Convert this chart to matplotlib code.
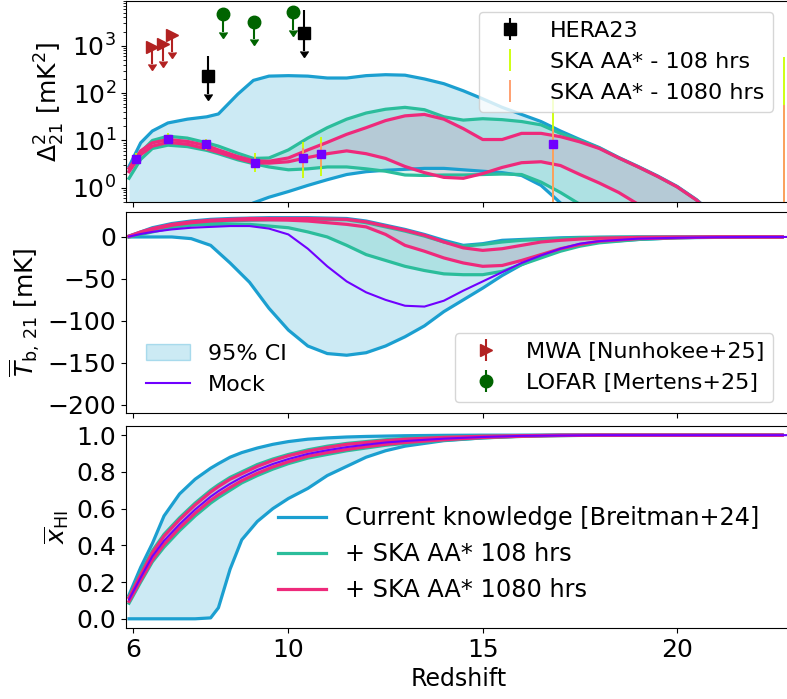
import numpy as np
import matplotlib
matplotlib.use('Agg')
import matplotlib.pyplot as plt
from matplotlib.patches import Patch
from matplotlib.lines import Line2D

# ---------------- data ----------------
# Top panel: power spectrum bands (log10 of Delta^2_21 in mK^2)
z_ps = [5.9, 6.2, 6.5, 6.9, 7.4, 7.9, 8.2, 8.7, 9.1, 9.5, 10.0, 10.5, 11.0, 11.5,
        12.0, 12.5, 13.0, 13.5, 14.0, 14.5, 15.0, 15.5, 16.0, 16.5, 17.0, 17.5,
        18.0, 18.5, 19.0, 19.5, 20.0, 20.5, 21.0, 22.0, 22.7]
ps_cur_hi = [0.45, 0.95, 1.2, 1.37, 1.45, 1.5, 1.56, 1.98, 2.27, 2.36, 2.37, 2.36, 2.32, 2.32,
             2.37, 2.39, 2.38, 2.3, 2.2, 2.05, 1.88, 1.7, 1.55, 1.4, 1.2, 1.02,
             0.85, 0.64, 0.45, 0.25, 0.03, -0.25, -0.6, -1.4, -2.0]
ps_cur_lo = [-2.0, -2.0, -2.0, -2.0, -2.0, -2.0, -2.0, -0.5, -0.32, -0.2, -0.08, 0.05, 0.17, 0.28,
             0.34, 0.37, 0.39, 0.41, 0.41, 0.38, 0.35, 0.32, 0.26, 0.05, -0.32, -1.0,
             -2.0, -2.0, -2.0, -2.0, -2.0, -2.0, -2.0, -2.0, -2.0]
ps_108_hi = [0.35, 0.75, 1.0, 1.09, 1.05, 0.95, 0.88, 0.73, 0.62, 0.63, 0.8, 1.05, 1.27, 1.45,
             1.58, 1.66, 1.7, 1.65, 1.5, 1.43, 1.46, 1.44, 1.4, 1.33, 1.15, 1.0,
             0.84, 0.63, 0.44, 0.24, 0.02, -0.26, -0.62, -1.4, -2.0]
ps_108_lo = [0.2, 0.6, 0.83, 0.9, 0.87, 0.79, 0.72, 0.59, 0.51, 0.44, 0.38, 0.4, 0.44, 0.44,
             0.4, 0.35, 0.27, 0.26, 0.27, 0.27, 0.28, 0.29, 0.28, 0.12, -0.1, -0.35,
             -0.8, -2.0, -2.0, -2.0, -2.0, -2.0, -2.0, -2.0, -2.0]
ps_1080_hi = [0.41, 0.78, 0.95, 1.02, 0.98, 0.89, 0.8, 0.66, 0.57, 0.56, 0.63, 0.8, 0.96, 1.13,
              1.27, 1.42, 1.52, 1.55, 1.45, 1.25, 1.02, 1.02, 1.15, 1.15, 1.08, 0.97,
              0.83, 0.63, 0.44, 0.24, 0.02, -0.26, -0.62, -1.4, -2.0]
ps_1080_lo = [0.34, 0.7, 0.88, 0.96, 0.92, 0.82, 0.75, 0.62, 0.53, 0.52, 0.55, 0.64, 0.72, 0.78,
              0.72, 0.62, 0.45, 0.32, 0.22, 0.2, 0.3, 0.43, 0.53, 0.55, 0.47, 0.28,
              0.1, -0.1, -0.35, -0.7, -1.2, -2.0, -2.0, -2.0, -2.0]

# Mock power spectrum points and SKA errors (mK^2)
z_mock_pts = [6.09, 6.89, 7.89, 9.15, 10.37, 10.85, 16.81, 22.75]
ps_mock_pts = [4.1, 10.7, 8.5, 3.4, 4.3, 5.3, 8.3, 0.01]
err108_lo = [0.8, 2.3, 2.2, 1.2, 2.7, 3.5, 8.3, 0.01]
err108_hi = [1.3, 3.9, 2.5, 2.1, 5.1, 6.4, 71.0, 575.0]
err1080_lo = [0.5, 1.5, 1.5, 0.8, 1.7, 2.5, 8.3, 0.01]
err1080_hi = [0.7, 2.3, 1.3, 1.1, 2.6, 3.4, 9.0, 56.0]

# Observational upper limits
z_hera = [7.94, 10.39]
ps_hera = [228.0, 1860.0]
hera_err_lo = [133.0, 1080.0]
hera_err_hi = [372.0, 3940.0]

z_mwa = [6.48, 6.78, 7.0]
ps_mwa = [940.0, 1070.0, 1660.0]

z_lofar = [8.31, 9.12, 10.12]
ps_lofar = [4600.0, 3200.0, 5100.0]

# Middle panel: global signal (mK)
z_tb = [5.9, 6.2, 6.5, 7.0, 7.5, 8.0, 8.5, 9.0, 9.5, 10.0, 10.5, 11.0, 11.5, 12.0,
        12.5, 13.0, 13.5, 14.0, 14.5, 15.0, 15.5, 16.0, 16.5, 17.0, 17.5, 18.0,
        19.0, 20.0, 21.0, 22.0, 22.7]
tb_cur_hi = [1, 6, 11, 16, 19, 21, 22, 22.5, 23, 23, 23, 22.5, 22, 19,
             14, 9, 3, -4, -10, -8, -4, -3, -2, -1, -0.5, -0.3,
             0, 0, 0, 0, 0]
tb_cur_lo = [0, 0, 0, 0, -2, -10, -31, -54, -85, -111, -130, -139, -141, -138,
             -130, -119, -106, -89, -75, -61, -46, -33, -23, -15, -10, -6,
             -3, -1, -0.5, 0, 0]
tb_108_hi = [1, 5, 9, 14, 16.5, 18, 19, 20, 20.5, 21, 21, 21, 20.5, 17,
             12, 7, 1, -6, -11, -9, -6, -4, -3, -2, -1, -0.5,
             0, 0, 0, 0, 0]
tb_108_lo = [0, 3, 6, 11, 14, 15, 15, 15, 13, 11, 6, 0, -10, -21,
             -28, -35, -40, -44, -45, -45, -41, -33, -25, -17, -11, -7,
             -3, -1, 0, 0, 0]
tb_1080_hi = [1, 6, 10, 15, 18, 20, 21, 22, 22, 22, 22, 21.5, 21, 18,
              13, 8, 2, -6, -13, -16, -14, -10, -6, -4, -2.5, -1.5,
              -0.5, 0, 0, 0, 0]
tb_1080_lo = [0.5, 5, 9, 14, 17, 19, 20, 20.5, 20.5, 20, 19, 17, 15, 12,
              3, -10, -17, -25, -31, -35, -34, -28, -21, -14, -9, -5,
              -2, -1, 0, 0, 0]
z_tb_mock = [5.9, 6.2, 6.5, 7.0, 7.5, 8.0, 8.5, 9.0, 9.5, 10.0, 10.5, 11.0, 11.5, 12.0,
             12.5, 13.0, 13.5, 14.0, 14.5, 15.0, 15.5, 16.0, 16.5, 17.0, 17.5, 18.0,
             19.0, 20.0, 21.0, 22.0, 22.9]
tb_mock = [0.5, 3.5, 6, 9, 11, 12, 13, 13, 10, 3, -14, -35, -53, -66,
           -75, -82, -83, -76, -64, -53, -42, -31, -22, -14, -8, -5,
           -2, -1, -0.3, 0, 0]

# Bottom panel: neutral fraction
z_xhi = [5.9, 6.2, 6.5, 6.8, 7.2, 7.6, 8.0, 8.2, 8.5, 8.8, 9.2, 9.6, 10.0, 10.5,
         11.0, 11.5, 12.0, 12.5, 13.0, 14.0, 15.0, 16.0, 17.0, 18.0, 20.0, 22.7]
xhi_cur_hi = [0.13, 0.28, 0.41, 0.56, 0.68, 0.76, 0.82, 0.845, 0.88, 0.905, 0.93, 0.95, 0.965, 0.978,
              0.985, 0.99, 0.993, 0.995, 0.997, 0.999, 1.0, 1.0, 1.0, 1.0, 1.0, 1.0]
xhi_cur_lo = [0.0, 0.0, 0.0, 0.0, 0.0, 0.0, 0.005, 0.06, 0.27, 0.43, 0.53, 0.6, 0.655, 0.71,
              0.78, 0.83, 0.88, 0.915, 0.94, 0.97, 0.985, 0.995, 1.0, 1.0, 1.0, 1.0]
xhi_108_hi = [0.12, 0.25, 0.37, 0.46, 0.55, 0.63, 0.7, 0.73, 0.77, 0.8, 0.84, 0.87, 0.895, 0.92,
              0.94, 0.955, 0.965, 0.975, 0.982, 0.99, 0.995, 0.998, 1.0, 1.0, 1.0, 1.0]
xhi_108_lo = [0.085, 0.2, 0.31, 0.39, 0.48, 0.56, 0.63, 0.66, 0.7, 0.74, 0.78, 0.815, 0.845, 0.875,
              0.895, 0.915, 0.93, 0.945, 0.955, 0.972, 0.985, 0.993, 0.997, 1.0, 1.0, 1.0]
xhi_1080_hi = [0.115, 0.24, 0.36, 0.45, 0.54, 0.62, 0.69, 0.72, 0.76, 0.79, 0.83, 0.862, 0.888, 0.913,
               0.933, 0.95, 0.96, 0.97, 0.978, 0.988, 0.994, 0.997, 1.0, 1.0, 1.0, 1.0]
xhi_1080_lo = [0.095, 0.21, 0.32, 0.405, 0.495, 0.575, 0.645, 0.675, 0.715, 0.752, 0.792, 0.827, 0.855, 0.885,
               0.905, 0.922, 0.937, 0.95, 0.96, 0.975, 0.987, 0.994, 0.998, 1.0, 1.0, 1.0]
z_xhi_mock = [5.9, 6.2, 6.5, 6.8, 7.2, 7.6, 8.0, 8.2, 8.5, 8.8, 9.2, 9.6, 10.0, 10.5,
              11.0, 11.5, 12.0, 12.5, 13.0, 14.0, 15.0, 16.0, 17.0, 18.0, 20.0, 22.9]
xhi_mock = [0.105, 0.225, 0.34, 0.425, 0.515, 0.595, 0.665, 0.695, 0.735, 0.77, 0.81, 0.843, 0.87, 0.898,
            0.918, 0.935, 0.948, 0.96, 0.968, 0.981, 0.99, 0.996, 0.998, 1.0, 1.0, 1.0]

# ---------------- styles ----------------
C_CUR = '#1b9fd0'
C_108 = '#2bbd9b'
C_1080 = '#ee2a7b'
C_MOCK = '#7000ff'
C_ERR108 = '#ccff00'
C_ERR1080 = '#ff9966'
C_MWA = '#b22222'
C_LOFAR = '#006400'
FILL_CUR = (27/255, 161/255, 209/255, 0.22)
FILL_108 = (43/255, 189/255, 155/255, 0.18)
FILL_1080 = (238/255, 42/255, 123/255, 0.12)
LW = 2.3

plt.rcParams['font.family'] = ['DejaVu Sans']
plt.rcParams['mathtext.fontset'] = 'dejavusans'

fig = plt.figure(figsize=(7.87, 6.99), dpi=100)
ax1 = fig.add_axes([0.160, 0.711, 0.845, 0.288])
ax2 = fig.add_axes([0.160, 0.409, 0.845, 0.288])
ax3 = fig.add_axes([0.160, 0.1016, 0.845, 0.289])

XLIM = (5.82, 22.93)

# ---- top panel ----
zp = np.array(z_ps)
def p(a):
    return 10.0 ** np.array(a)

ax1.fill_between(zp, p(ps_cur_lo), p(ps_cur_hi), color=FILL_CUR, lw=0)
ax1.fill_between(zp, p(ps_108_lo), p(ps_108_hi), color=FILL_108, lw=0)
ax1.fill_between(zp, p(ps_1080_lo), p(ps_1080_hi), color=FILL_1080, lw=0)
ax1.plot(zp, p(ps_cur_hi), color=C_CUR, lw=LW)
ax1.plot(zp, p(ps_cur_lo), color=C_CUR, lw=LW)
ax1.plot(zp, p(ps_108_hi), color=C_108, lw=LW)
ax1.plot(zp, p(ps_108_lo), color=C_108, lw=LW)
ax1.plot(zp, p(ps_1080_hi), color=C_1080, lw=LW)
ax1.plot(zp, p(ps_1080_lo), color=C_1080, lw=LW)

eb108 = ax1.errorbar(z_mock_pts, ps_mock_pts, yerr=[err108_lo, err108_hi], fmt='none',
                     ecolor=C_ERR108, elinewidth=1.3, label='SKA AA* - 108 hrs', zorder=5)
eb1080 = ax1.errorbar(z_mock_pts, ps_mock_pts, yerr=[err1080_lo, err1080_hi], fmt='none',
                      ecolor=C_ERR1080, elinewidth=1.3, label='SKA AA* - 1080 hrs', zorder=6)
ax1.plot(z_mock_pts, ps_mock_pts, 's', color=C_MOCK, ms=6, zorder=7)

hera = ax1.errorbar(z_hera, ps_hera, yerr=[hera_err_lo, hera_err_hi], fmt='s', color='black',
                    ms=9, elinewidth=1.5, label='HERA23', zorder=8)
ax1.errorbar(z_hera, ps_hera, yerr=hera_err_lo, uplims=True, fmt='none', ecolor='black',
             color='black', elinewidth=1.5, capsize=3, zorder=8)
ax1.errorbar(z_mwa, ps_mwa, yerr=np.array(ps_mwa) * 0.56, uplims=True, fmt='>',
             color=C_MWA, ecolor=C_MWA, ms=9, elinewidth=1.5, capsize=3, zorder=8)
ax1.errorbar(z_lofar, ps_lofar, yerr=np.array(ps_lofar) * 0.57, uplims=True, fmt='o',
             color=C_LOFAR, ecolor=C_LOFAR, ms=9, elinewidth=1.5, capsize=3, zorder=8)
# legend proxies (no caps), drawn outside the visible range
mwa = ax1.errorbar([np.nan], [np.nan], yerr=[1.0], fmt='>', color=C_MWA, ms=9,
                   elinewidth=1.5, label='MWA [Nunhokee+25]')
lofar = ax1.errorbar([np.nan], [np.nan], yerr=[1.0], fmt='o', color=C_LOFAR, ms=9,
                     elinewidth=1.5, label='LOFAR [Mertens+25]')

ax1.set_yscale('log')
ax1.set_ylim(0.5, 9000)
ax1.set_xlim(*XLIM)
ax1.set_yticks([1, 10, 100, 1000])
ax1.set_ylabel(r'$\Delta^2_{21}$ [mK$^2$]', fontsize=18)
ax1.legend(handles=[hera, eb108, eb1080], loc='upper right', fontsize=16,
           bbox_to_anchor=(0.99, 1.0), handlelength=2.0)

# ---- middle panel ----
zt = np.array(z_tb)
ax2.fill_between(zt, tb_cur_lo, tb_cur_hi, color=FILL_CUR, lw=0)
ax2.fill_between(zt, tb_108_lo, tb_108_hi, color=FILL_108, lw=0)
ax2.fill_between(zt, tb_1080_lo, tb_1080_hi, color=FILL_1080, lw=0)
ax2.plot(zt, tb_cur_hi, color=C_CUR, lw=LW)
ax2.plot(zt, tb_cur_lo, color=C_CUR, lw=LW)
ax2.plot(zt, tb_108_hi, color=C_108, lw=LW)
ax2.plot(zt, tb_108_lo, color=C_108, lw=LW)
ax2.plot(zt, tb_1080_hi, color=C_1080, lw=LW)
ax2.plot(zt, tb_1080_lo, color=C_1080, lw=LW)
ax2.plot(z_tb_mock, tb_mock, color=C_MOCK, lw=1.5)
ax2.set_xlim(*XLIM)
ax2.set_ylim(-210, 30)
ax2.set_yticks([0, -50, -100, -150, -200])
ax2.set_ylabel(r'$\overline{T}_{\rm b,\,21}$ [mK]', fontsize=18)
ci_patch = Patch(facecolor=FILL_CUR, edgecolor=(27/255, 161/255, 209/255, 0.3), label='95% CI')
mock_line = Line2D([], [], color=C_MOCK, lw=1.5, label='Mock')
leg_l = ax2.legend(handles=[ci_patch, mock_line], loc='lower left', fontsize=16, frameon=False,
                   bbox_to_anchor=(0.0, -0.01))
ax2.add_artist(leg_l)
ax2.legend(handles=[mwa, lofar], loc='lower right', fontsize=16, bbox_to_anchor=(0.99, 0.0))

# ---- bottom panel ----
zx = np.array(z_xhi)
ax3.fill_between(zx, xhi_cur_lo, xhi_cur_hi, color=FILL_CUR, lw=0)
ax3.fill_between(zx, xhi_108_lo, xhi_108_hi, color=FILL_108, lw=0)
ax3.fill_between(zx, xhi_1080_lo, xhi_1080_hi, color=FILL_1080, lw=0)
l_cur, = ax3.plot(zx, xhi_cur_hi, color=C_CUR, lw=LW, label='Current knowledge [Breitman+24]')
ax3.plot(zx, xhi_cur_lo, color=C_CUR, lw=LW)
l_108, = ax3.plot(zx, xhi_108_hi, color=C_108, lw=LW, label='+ SKA AA* 108 hrs')
ax3.plot(zx, xhi_108_lo, color=C_108, lw=LW)
l_1080, = ax3.plot(zx, xhi_1080_hi, color=C_1080, lw=LW, label='+ SKA AA* 1080 hrs')
ax3.plot(zx, xhi_1080_lo, color=C_1080, lw=LW)
ax3.plot(z_xhi_mock, xhi_mock, color=C_MOCK, lw=1.5)
ax3.set_xlim(*XLIM)
ax3.set_ylim(-0.05, 1.05)
ax3.set_yticks([0.0, 0.2, 0.4, 0.6, 0.8, 1.0])
ax3.set_ylabel(r'$\overline{x}_{\rm HI}$', fontsize=18)
ax3.set_xlabel('Redshift', fontsize=17)
ax3.legend(handles=[l_cur, l_108, l_1080], loc='lower right', fontsize=17.3, frameon=False,
           bbox_to_anchor=(0.985, 0.02), handlelength=2.0)

for ax in (ax1, ax2, ax3):
    ax.set_xticks([6, 10, 15, 20])
    ax.tick_params(axis='both', labelsize=18)
for ax in (ax1, ax2):
    ax.tick_params(axis='x', labelbottom=False)

fig.savefig('out.png', dpi=100)
